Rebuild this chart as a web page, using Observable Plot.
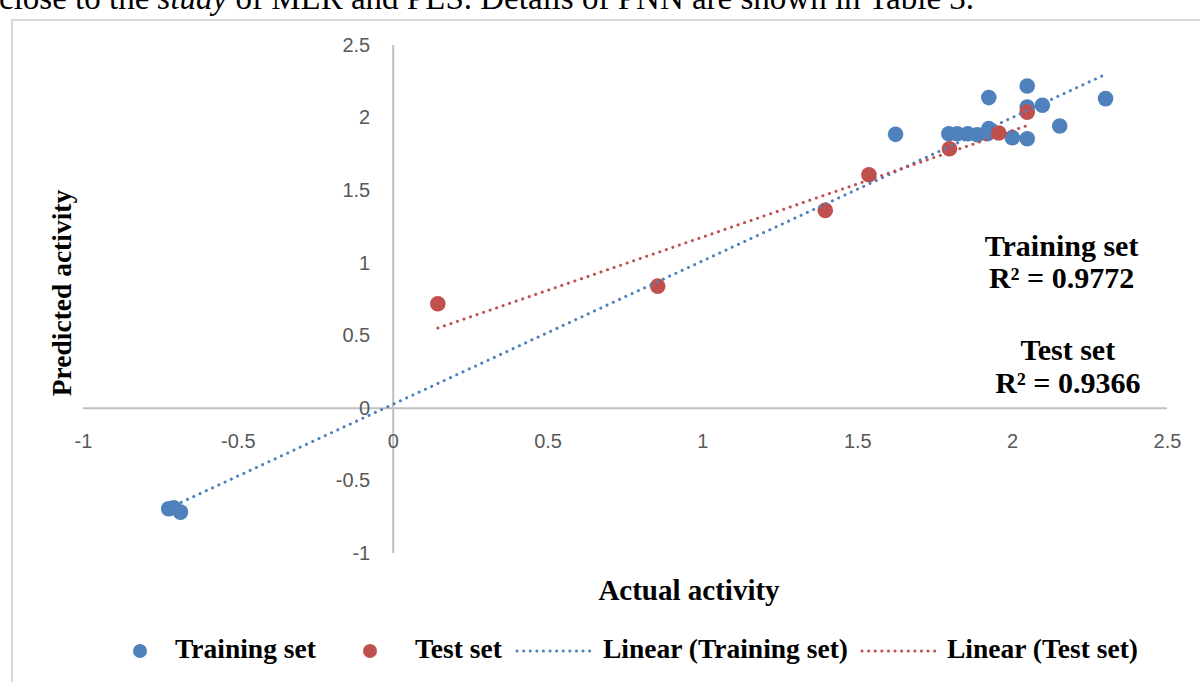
<!DOCTYPE html>
<html>
<head>
<meta charset="utf-8">
<script src="https://cdn.jsdelivr.net/npm/d3@7"></script>
<script src="https://cdn.jsdelivr.net/npm/@observablehq/plot@0.6"></script>
<style>
  html, body { margin: 0; padding: 0; background: #fff; }
  #wrap { position: relative; width: 1200px; height: 682px; overflow: hidden; background: #fff; }
  #intro { position: absolute; left: -1px; top: -18px; font-family: "Liberation Serif", serif; font-size: 33px; line-height: 33px; white-space: nowrap; color: #000; }
  #frame { position: absolute; left: 11px; top: 19px; width: 1220px; height: 700px; border: 2px solid #d9d9d9; box-sizing: border-box; }
  #chart { position: absolute; left: 0; top: 0; }
  .title { position: absolute; font-family: "Liberation Serif", serif; font-weight: bold; color: #000; white-space: nowrap; }
  .leg { position: absolute; font-family: "Liberation Serif", serif; font-weight: bold; font-size: 27.5px; color: #000; white-space: nowrap; top: 633px; }
</style>
</head>
<body>
<div id="wrap">
  <div id="intro">close to the <i>study</i> of MLR and PLS. Details of PNN are shown in Table 3.</div>
  <div id="frame"></div>
  <div id="chart"></div>
  <div class="title" id="ytitle" style="font-size:27.5px; left:62px; top:293px; transform: translate(-50%,-50%) rotate(-90deg);">Predicted activity</div>
  <div class="title" id="xtitle" style="font-size:29px; left:689px; top:590px; transform: translate(-50%,-50%);">Actual activity</div>
  <div id="legend"></div>
</div>
<script>
// ---- data ----
const trainX = [-0.725, -0.708, -0.687, 1.622, 1.794, 1.821, 1.855, 1.886, 1.918, 1.923, 1.999, 2.047, 1.923, 2.047, 2.096, 2.047, 2.152, 2.300];
const trainY = [-0.692, -0.685, -0.715, 1.888, 1.892, 1.892, 1.892, 1.885, 1.892, 1.927, 1.865, 1.858, 2.141, 2.076, 2.088, 2.221, 1.945, 2.134];
const testX = [0.144, 0.854, 1.395, 1.536, 1.796, 1.955, 2.047];
const testY = [0.721, 0.842, 1.364, 1.610, 1.789, 1.897, 2.041];
const xTicks = [-1, -0.5, 0, 0.5, 1, 1.5, 2, 2.5];
const yTicks = [-1, -0.5, 0, 0.5, 1, 1.5, 2, 2.5];
const seriesNames = ["Training set", "Test set", "Linear (Training set)", "Linear (Test set)"];
const annotations = [
  {text: "Training set\nR\u00b2 = 0.9772", x: 2.158, y: 1.012},
  {text: "Test set\nR\u00b2 = 0.9366", x: 2.178, y: 0.292}
];

const BLUE = "#4f81bd", RED = "#c0504d", AXIS = "#bfbfbf", TICK = "#595959";
const train = trainX.map((x, i) => ({x, y: trainY[i]}));
const test = testX.map((x, i) => ({x, y: testY[i]}));
const sans = "'Liberation Sans', Arial, sans-serif";
const serif = "'Liberation Serif', 'Times New Roman', serif";

const chart = Plot.plot({
  width: 1200,
  height: 682,
  marginLeft: 83,
  marginRight: 33,
  marginTop: 45,
  marginBottom: 129,
  x: {domain: [-1, 2.5], axis: null},
  y: {domain: [-1, 2.5], axis: null},
  style: {background: "transparent", overflow: "visible"},
  marks: [
    Plot.ruleY([0], {stroke: AXIS, strokeWidth: 2}),
    Plot.ruleX([0], {stroke: AXIS, strokeWidth: 2}),
    Plot.text(xTicks, {x: d => d, y: 0, dy: 33, text: d => String(d), fontSize: 20, fill: TICK, fontFamily: sans}),
    Plot.text(yTicks, {x: 0, y: d => d, dx: -23, text: d => String(d), textAnchor: "end", fontSize: 20, fill: TICK, fontFamily: sans}),
    Plot.dot(train, {x: "x", y: "y", r: 7.8, fill: BLUE, stroke: null}),
    Plot.dot(test, {x: "x", y: "y", r: 7.8, fill: RED, stroke: null}),
    Plot.linearRegressionY(train, {x: "x", y: "y", ci: 0, stroke: BLUE, strokeWidth: 3, strokeDasharray: "0.1,6.8", strokeLinecap: "round"}),
    Plot.linearRegressionY(test, {x: "x", y: "y", ci: 0, stroke: RED, strokeWidth: 3, strokeDasharray: "0.1,6.8", strokeLinecap: "round"}),
    Plot.text(annotations, {x: "x", y: "y", text: "text", fontSize: 30, fontWeight: "bold", fontFamily: serif, fill: "#000", lineHeight: 1.08})
  ]
});
document.getElementById("chart").appendChild(chart);

// ---- legend ----
const legend = document.getElementById("legend");
const items = [
  {name: seriesNames[0], type: "dot", color: BLUE, sx: 140, tx: 175},
  {name: seriesNames[1], type: "dot", color: RED, sx: 370, tx: 415},
  {name: seriesNames[2], type: "line", color: BLUE, sx: 515, tx: 603},
  {name: seriesNames[3], type: "line", color: RED, sx: 860, tx: 947}
];
items.forEach(it => {
  const sw = document.createElementNS("http://www.w3.org/2000/svg", "svg");
  sw.style.position = "absolute";
  if (it.type === "dot") {
    sw.setAttribute("width", 20); sw.setAttribute("height", 20);
    sw.style.left = (it.sx - 10) + "px"; sw.style.top = "641px";
    const c = document.createElementNS("http://www.w3.org/2000/svg", "circle");
    c.setAttribute("cx", 10); c.setAttribute("cy", 10); c.setAttribute("r", 7);
    c.setAttribute("fill", it.color);
    sw.appendChild(c);
  } else {
    sw.setAttribute("width", 84); sw.setAttribute("height", 10);
    sw.style.left = it.sx + "px"; sw.style.top = "646px";
    const l = document.createElementNS("http://www.w3.org/2000/svg", "line");
    l.setAttribute("x1", 2); l.setAttribute("x2", 80); l.setAttribute("y1", 5); l.setAttribute("y2", 5);
    l.setAttribute("stroke", it.color); l.setAttribute("stroke-width", 3);
    l.setAttribute("stroke-dasharray", "0.1,6.5"); l.setAttribute("stroke-linecap", "round");
    sw.appendChild(l);
  }
  legend.appendChild(sw);
  const t = document.createElement("div");
  t.className = "leg";
  t.style.left = it.tx + "px";
  t.textContent = it.name;
  legend.appendChild(t);
});
</script>
</body>
</html>
